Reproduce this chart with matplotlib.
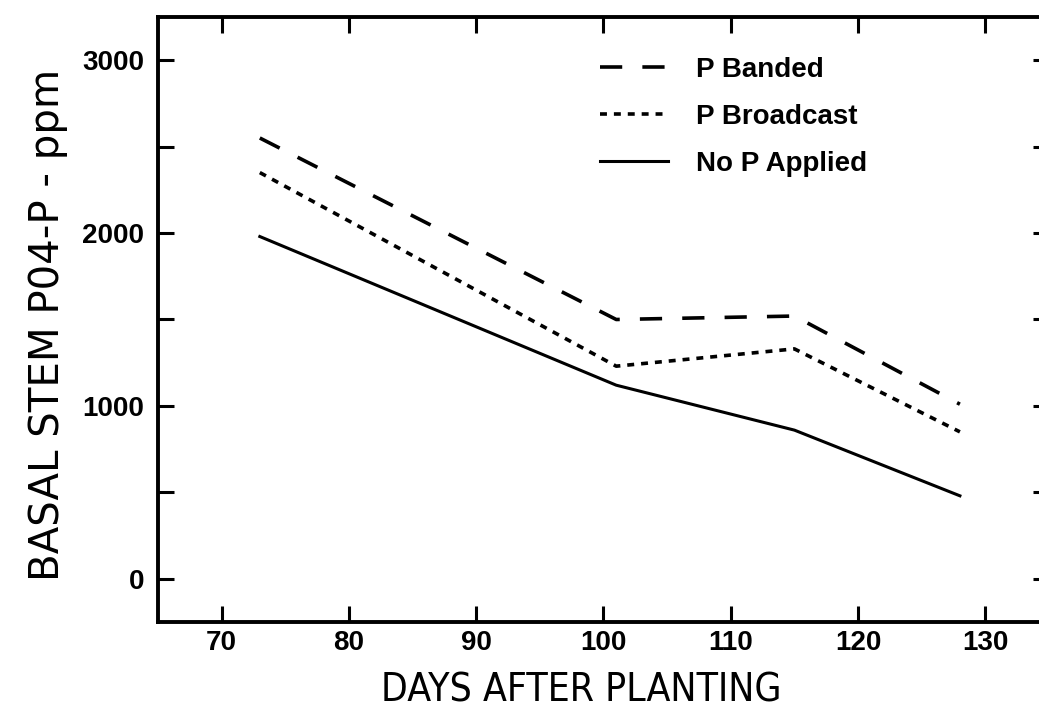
import numpy as np
import matplotlib
matplotlib.use('Agg')
from matplotlib import pyplot as plt

# ---------- data ----------
days = [73, 101, 115, 128]
p_banded = [2550, 1500, 1520, 1010]
p_broadcast = [2350, 1230, 1330, 850]
no_p = [1980, 1120, 860, 480]

x_ticks = [70, 80, 90, 100, 110, 120, 130]
y_major = [0, 1000, 2000, 3000]
y_minor = [500, 1500, 2500]

plt.rcParams['lines.scale_dashes'] = False
label_font = ['DejaVu Sans']
tick_font = ['Liberation Sans', 'DejaVu Sans']

fig = plt.figure(figsize=(10.39, 7.09), dpi=100)
# right spine lies just past the picture edge, as in the scan
ax = fig.add_axes([158/1039, 1 - 622/709, (1049 - 158)/1039, (622 - 17)/709])

ax.plot(days, p_banded, color='black', lw=2.6, dashes=(16, 14.5), label='P Banded')
ax.plot(days, p_broadcast, color='black', lw=2.6, dashes=(5, 5), label='P Broadcast')
ax.plot(days, no_p, color='black', lw=2.2, label='No P Applied')

ax.set_xlim(65, 135)
ax.set_ylim(-250, 3250)
ax.set_xticks(x_ticks)
ax.set_yticks(y_major)
ax.set_yticks(y_minor, minor=True)

for s in ax.spines.values():
    s.set_linewidth(2.8)

ax.tick_params(which='both', direction='in', length=11.5, width=2.2,
               top=True, right=True)
ax.tick_params(axis='x', pad=6)
ax.tick_params(axis='y', pad=10)
for lab in ax.get_xticklabels() + ax.get_yticklabels():
    lab.set_fontfamily(tick_font)
    lab.set_fontweight('bold')
    lab.set_fontsize(20)

leg = ax.legend(loc='upper left', bbox_to_anchor=(600/1039, 1 - 57/709),
                bbox_transform=fig.transFigure, frameon=False,
                borderpad=0, borderaxespad=0, handlelength=2.45,
                handletextpad=1.0, labelspacing=0.75,
                prop={'family': tick_font, 'weight': 'bold', 'size': 20})

fig.text(581/1039, 1 - 690/709, 'DAYS AFTER PLANTING', family=label_font,
         stretch='condensed', fontsize=28, ha='center', va='center')
fig.text(48/1039, 1 - 325/709, 'BASAL STEM P04-P - ppm', family=label_font,
         fontsize=29, ha='center', va='center', rotation=90)

fig.savefig('out.png', dpi=100)
